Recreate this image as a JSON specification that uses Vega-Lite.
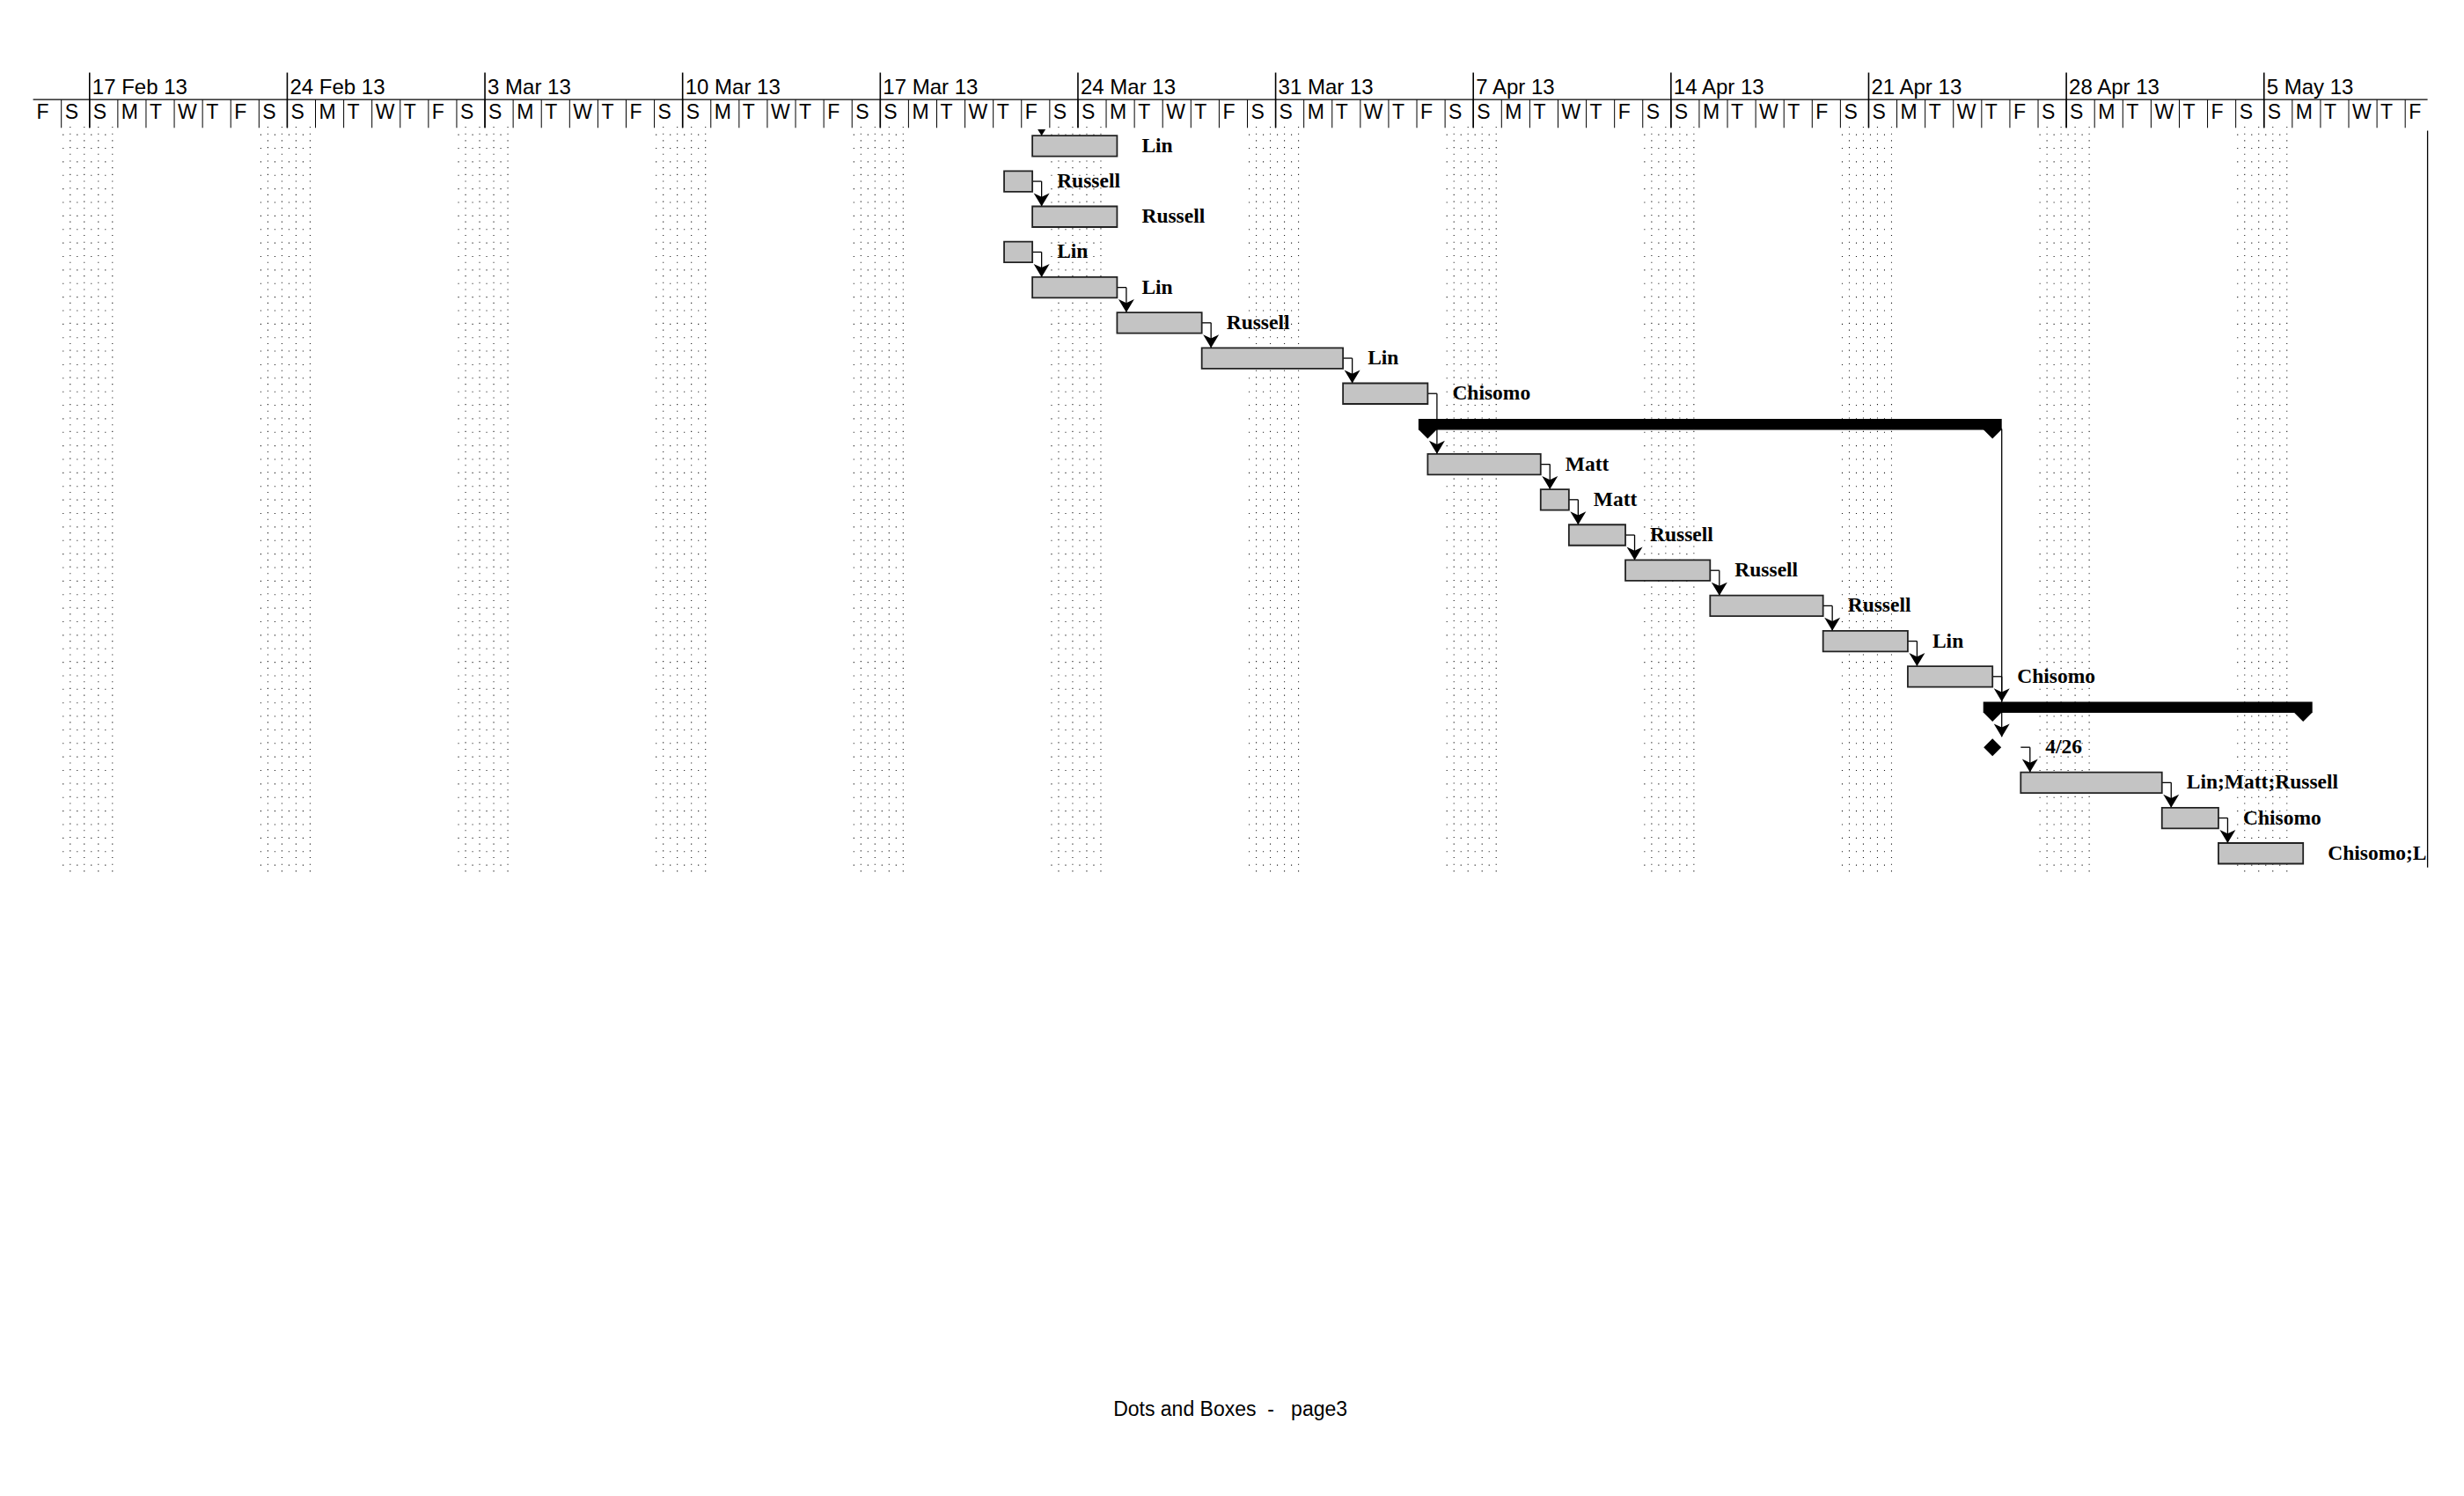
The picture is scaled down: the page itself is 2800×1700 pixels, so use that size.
{
  "$schema": "https://vega.github.io/schema/vega-lite/v6.json",
  "width": 2721,
  "height": 1000,
  "autosize": {"type": "none"},
  "padding": {"left": 37.6, "top": 0, "right": 41.4, "bottom": 700},
  "background": "white",
  "config": {"view": {"stroke": null}, "axis": {"disable": true}, "legend": {"disable": true}},
  "title": {"text": "Dots and Boxes\u00a0 - \u00a0 page3", "orient": "bottom", "anchor": "middle", "offset": 602, "baseline": "middle", "font": "Liberation Sans", "fontSize": 23, "fontWeight": "normal", "color": "black"},
  "datasets": {
    "tasks": [
      {"row": 0, "type": "task", "start": "2013-03-22T09:15Z", "end": "2013-03-25T09:15Z", "label": "Lin", "offpage": true},
      {"row": 1, "type": "task", "start": "2013-03-21T09:15Z", "end": "2013-03-22T09:15Z", "label": "Russell"},
      {"row": 2, "type": "task", "start": "2013-03-22T09:15Z", "end": "2013-03-25T09:15Z", "label": "Russell", "pred": 1, "predEnd": "2013-03-22T09:15Z"},
      {"row": 3, "type": "task", "start": "2013-03-21T09:15Z", "end": "2013-03-22T09:15Z", "label": "Lin"},
      {"row": 4, "type": "task", "start": "2013-03-22T09:15Z", "end": "2013-03-25T09:15Z", "label": "Lin", "pred": 3, "predEnd": "2013-03-22T09:15Z"},
      {"row": 5, "type": "task", "start": "2013-03-25T09:15Z", "end": "2013-03-28T09:15Z", "label": "Russell", "pred": 4, "predEnd": "2013-03-25T09:15Z"},
      {"row": 6, "type": "task", "start": "2013-03-28T09:15Z", "end": "2013-04-02T09:15Z", "label": "Lin", "pred": 5, "predEnd": "2013-03-28T09:15Z"},
      {"row": 7, "type": "task", "start": "2013-04-02T09:15Z", "end": "2013-04-05T09:15Z", "label": "Chisomo", "pred": 6, "predEnd": "2013-04-02T09:15Z"},
      {"row": 8, "type": "summary", "start": "2013-04-05T09:15Z", "end": "2013-04-25T09:15Z"},
      {"row": 9, "type": "task", "start": "2013-04-05T09:15Z", "end": "2013-04-09T09:15Z", "label": "Matt", "pred": 7, "predEnd": "2013-04-05T09:15Z"},
      {"row": 10, "type": "task", "start": "2013-04-09T09:15Z", "end": "2013-04-10T09:15Z", "label": "Matt", "pred": 9, "predEnd": "2013-04-09T09:15Z"},
      {"row": 11, "type": "task", "start": "2013-04-10T09:15Z", "end": "2013-04-12T09:15Z", "label": "Russell", "pred": 10, "predEnd": "2013-04-10T09:15Z"},
      {"row": 12, "type": "task", "start": "2013-04-12T09:15Z", "end": "2013-04-15T09:15Z", "label": "Russell", "pred": 11, "predEnd": "2013-04-12T09:15Z"},
      {"row": 13, "type": "task", "start": "2013-04-15T09:15Z", "end": "2013-04-19T09:15Z", "label": "Russell", "pred": 12, "predEnd": "2013-04-15T09:15Z"},
      {"row": 14, "type": "task", "start": "2013-04-19T09:15Z", "end": "2013-04-22T09:15Z", "label": "Lin", "pred": 13, "predEnd": "2013-04-19T09:15Z"},
      {"row": 15, "type": "task", "start": "2013-04-22T09:15Z", "end": "2013-04-25T09:15Z", "label": "Chisomo", "pred": 14, "predEnd": "2013-04-22T09:15Z"},
      {"row": 16, "type": "summary", "start": "2013-04-25T09:15Z", "end": "2013-05-06T09:15Z", "pred": 8, "predEnd": "2013-04-25T09:15Z"},
      {"row": 17, "type": "milestone", "start": "2013-04-25T09:15Z", "end": "2013-04-26T09:15Z", "label": "4/26", "pred": 15, "predEnd": "2013-04-25T09:15Z"},
      {"row": 18, "type": "task", "start": "2013-04-26T09:15Z", "end": "2013-05-01T09:15Z", "label": "Lin;Matt;Russell", "pred": 17, "predEnd": "2013-04-26T09:15Z"},
      {"row": 19, "type": "task", "start": "2013-05-01T09:15Z", "end": "2013-05-03T09:15Z", "label": "Chisomo", "pred": 18, "predEnd": "2013-05-01T09:15Z"},
      {"row": 20, "type": "task", "start": "2013-05-03T09:15Z", "end": "2013-05-06T09:15Z", "label": "Chisomo;Lin;Matt;Russell", "pred": 19, "predEnd": "2013-05-03T09:15Z"}
    ],
    "weeks": [
      {"d": "2013-02-17", "t": "17 Feb 13"}, {"d": "2013-02-24", "t": "24 Feb 13"},
      {"d": "2013-03-03", "t": "3 Mar 13"}, {"d": "2013-03-10", "t": "10 Mar 13"},
      {"d": "2013-03-17", "t": "17 Mar 13"}, {"d": "2013-03-24", "t": "24 Mar 13"},
      {"d": "2013-03-31", "t": "31 Mar 13"}, {"d": "2013-04-07", "t": "7 Apr 13"},
      {"d": "2013-04-14", "t": "14 Apr 13"}, {"d": "2013-04-21", "t": "21 Apr 13"},
      {"d": "2013-04-28", "t": "28 Apr 13"}, {"d": "2013-05-05", "t": "5 May 13"}
    ],
    "days": [
      {"d": "2013-02-15", "l": "F"}, {"d": "2013-02-16", "l": "S"}, {"d": "2013-02-17", "l": "S"}, {"d": "2013-02-18", "l": "M"}, {"d": "2013-02-19", "l": "T"}, {"d": "2013-02-20", "l": "W"}, {"d": "2013-02-21", "l": "T"},
      {"d": "2013-02-22", "l": "F"}, {"d": "2013-02-23", "l": "S"}, {"d": "2013-02-24", "l": "S"}, {"d": "2013-02-25", "l": "M"}, {"d": "2013-02-26", "l": "T"}, {"d": "2013-02-27", "l": "W"}, {"d": "2013-02-28", "l": "T"},
      {"d": "2013-03-01", "l": "F"}, {"d": "2013-03-02", "l": "S"}, {"d": "2013-03-03", "l": "S"}, {"d": "2013-03-04", "l": "M"}, {"d": "2013-03-05", "l": "T"}, {"d": "2013-03-06", "l": "W"}, {"d": "2013-03-07", "l": "T"},
      {"d": "2013-03-08", "l": "F"}, {"d": "2013-03-09", "l": "S"}, {"d": "2013-03-10", "l": "S"}, {"d": "2013-03-11", "l": "M"}, {"d": "2013-03-12", "l": "T"}, {"d": "2013-03-13", "l": "W"}, {"d": "2013-03-14", "l": "T"},
      {"d": "2013-03-15", "l": "F"}, {"d": "2013-03-16", "l": "S"}, {"d": "2013-03-17", "l": "S"}, {"d": "2013-03-18", "l": "M"}, {"d": "2013-03-19", "l": "T"}, {"d": "2013-03-20", "l": "W"}, {"d": "2013-03-21", "l": "T"},
      {"d": "2013-03-22", "l": "F"}, {"d": "2013-03-23", "l": "S"}, {"d": "2013-03-24", "l": "S"}, {"d": "2013-03-25", "l": "M"}, {"d": "2013-03-26", "l": "T"}, {"d": "2013-03-27", "l": "W"}, {"d": "2013-03-28", "l": "T"},
      {"d": "2013-03-29", "l": "F"}, {"d": "2013-03-30", "l": "S"}, {"d": "2013-03-31", "l": "S"}, {"d": "2013-04-01", "l": "M"}, {"d": "2013-04-02", "l": "T"}, {"d": "2013-04-03", "l": "W"}, {"d": "2013-04-04", "l": "T"},
      {"d": "2013-04-05", "l": "F"}, {"d": "2013-04-06", "l": "S"}, {"d": "2013-04-07", "l": "S"}, {"d": "2013-04-08", "l": "M"}, {"d": "2013-04-09", "l": "T"}, {"d": "2013-04-10", "l": "W"}, {"d": "2013-04-11", "l": "T"},
      {"d": "2013-04-12", "l": "F"}, {"d": "2013-04-13", "l": "S"}, {"d": "2013-04-14", "l": "S"}, {"d": "2013-04-15", "l": "M"}, {"d": "2013-04-16", "l": "T"}, {"d": "2013-04-17", "l": "W"}, {"d": "2013-04-18", "l": "T"},
      {"d": "2013-04-19", "l": "F"}, {"d": "2013-04-20", "l": "S"}, {"d": "2013-04-21", "l": "S"}, {"d": "2013-04-22", "l": "M"}, {"d": "2013-04-23", "l": "T"}, {"d": "2013-04-24", "l": "W"}, {"d": "2013-04-25", "l": "T"},
      {"d": "2013-04-26", "l": "F"}, {"d": "2013-04-27", "l": "S"}, {"d": "2013-04-28", "l": "S"}, {"d": "2013-04-29", "l": "M"}, {"d": "2013-04-30", "l": "T"}, {"d": "2013-05-01", "l": "W"}, {"d": "2013-05-02", "l": "T"},
      {"d": "2013-05-03", "l": "F"}, {"d": "2013-05-04", "l": "S"}, {"d": "2013-05-05", "l": "S"}, {"d": "2013-05-06", "l": "M"}, {"d": "2013-05-07", "l": "T"}, {"d": "2013-05-08", "l": "W"}, {"d": "2013-05-09", "l": "T"},
      {"d": "2013-05-10", "l": "F"}
    ]
  },
  "layer": [
    {
      "data": {"name": "weeks"},
      "mark": {"type": "point", "shape": "M-0.0519,-1L-0.0519,1M-0.0142,-1L-0.0142,1M0.0236,-1L0.0236,1M0.0614,-1L0.0614,1", "filled": false, "stroke": "#1a1a1a", "strokeWidth": 1.1, "strokeDash": [1.1, 6.585], "size": 717917, "opacity": 1},
      "encoding": {
        "x": {"field": "d", "type": "temporal", "scale": {"type": "utc", "domain": [{"year": 2013, "month": "Feb", "date": 15, "utc": true}, {"year": 2013, "month": "May", "date": 10, "hours": 19, "utc": true}], "nice": false}},
        "y": {"datum": 9.996, "type": "quantitative", "scale": {"domain": [-4.0025, 20.6281], "reverse": true, "nice": false, "zero": false}}
      }
    },
    {
      "data": {"name": "weeks"},
      "mark": {"type": "point", "shape": "M-0.0708,-0.9797L-0.0708,1M-0.033,-0.9797L-0.033,1M0.0047,-0.9797L0.0047,1M0.0425,-0.9797L0.0425,1", "filled": false, "stroke": "#1a1a1a", "strokeWidth": 1.1, "strokeDash": [1.1, 14.27], "size": 717917, "opacity": 1},
      "encoding": {
        "x": {"field": "d", "type": "temporal", "scale": {"type": "utc", "domain": [{"year": 2013, "month": "Feb", "date": 15, "utc": true}, {"year": 2013, "month": "May", "date": 10, "hours": 19, "utc": true}], "nice": false}},
        "y": {"datum": 9.996, "type": "quantitative", "scale": {"domain": [-4.0025, 20.6281], "reverse": true, "nice": false, "zero": false}}
      }
    },
    {
      "data": {"values": [{}]},
      "mark": {"type": "rule", "stroke": "black", "strokeWidth": 1.3},
      "encoding": {
        "y": {"datum": -1.31, "type": "quantitative", "scale": {"domain": [-4.0025, 20.6281], "reverse": true, "nice": false, "zero": false}}
      }
    },
    {
      "data": {"name": "weeks"},
      "mark": {"type": "rule", "stroke": "black", "strokeWidth": 1.6},
      "encoding": {
        "x": {"field": "d", "type": "temporal", "scale": {"type": "utc", "domain": [{"year": 2013, "month": "Feb", "date": 15, "utc": true}, {"year": 2013, "month": "May", "date": 10, "hours": 19, "utc": true}], "nice": false}},
        "y": {"datum": -2.074, "type": "quantitative", "scale": {"domain": [-4.0025, 20.6281], "reverse": true, "nice": false, "zero": false}},
        "y2": {"datum": -0.512}
      }
    },
    {
      "data": {"name": "days"},
      "transform": [{"filter": "!(utcmonth(datum.d) == 1 && utcdate(datum.d) == 15)"}],
      "mark": {"type": "rule", "stroke": "black", "strokeWidth": 1},
      "encoding": {
        "x": {"field": "d", "type": "temporal", "scale": {"type": "utc", "domain": [{"year": 2013, "month": "Feb", "date": 15, "utc": true}, {"year": 2013, "month": "May", "date": 10, "hours": 19, "utc": true}], "nice": false}},
        "y": {"datum": -1.31, "type": "quantitative", "scale": {"domain": [-4.0025, 20.6281], "reverse": true, "nice": false, "zero": false}},
        "y2": {"datum": -0.512}
      }
    },
    {
      "data": {"name": "weeks"},
      "mark": {"type": "text", "align": "left", "baseline": "middle", "dx": 3, "font": "Liberation Sans", "fontSize": 24, "color": "black"},
      "encoding": {
        "x": {"field": "d", "type": "temporal", "scale": {"type": "utc", "domain": [{"year": 2013, "month": "Feb", "date": 15, "utc": true}, {"year": 2013, "month": "May", "date": 10, "hours": 19, "utc": true}], "nice": false}},
        "y": {"datum": -1.65, "type": "quantitative", "scale": {"domain": [-4.0025, 20.6281], "reverse": true, "nice": false, "zero": false}},
        "text": {"field": "t"}
      }
    },
    {
      "data": {"name": "days"},
      "mark": {"type": "text", "align": "left", "baseline": "middle", "dx": 4, "font": "Liberation Sans", "fontSize": 23, "color": "black"},
      "encoding": {
        "x": {"field": "d", "type": "temporal", "scale": {"type": "utc", "domain": [{"year": 2013, "month": "Feb", "date": 15, "utc": true}, {"year": 2013, "month": "May", "date": 10, "hours": 19, "utc": true}], "nice": false}},
        "y": {"datum": -0.943, "type": "quantitative", "scale": {"domain": [-4.0025, 20.6281], "reverse": true, "nice": false, "zero": false}},
        "text": {"field": "l"}
      }
    },
    {
      "data": {"values": [{}]},
      "mark": {"type": "rule", "stroke": "black", "strokeWidth": 1.3},
      "encoding": {
        "x": {"datum": {"year": 2013, "month": "May", "date": 10, "hours": 19, "utc": true}, "type": "temporal", "scale": {"type": "utc", "domain": [{"year": 2013, "month": "Feb", "date": 15, "utc": true}, {"year": 2013, "month": "May", "date": 10, "hours": 19, "utc": true}], "nice": false}},
        "y": {"datum": -0.431, "type": "quantitative", "scale": {"domain": [-4.0025, 20.6281], "reverse": true, "nice": false, "zero": false}},
        "y2": {"datum": 20.4}
      }
    },
    {
      "data": {"name": "tasks"},
      "transform": [{"filter": "datum.pred != null"}],
      "mark": {"type": "rule", "stroke": "black", "strokeWidth": 1.3, "x2Offset": 10.5},
      "encoding": {
        "x": {"field": "predEnd", "type": "temporal", "scale": {"type": "utc", "domain": [{"year": 2013, "month": "Feb", "date": 15, "utc": true}, {"year": 2013, "month": "May", "date": 10, "hours": 19, "utc": true}], "nice": false}},
        "x2": {"field": "start"},
        "y": {"field": "pred", "type": "quantitative", "scale": {"domain": [-4.0025, 20.6281], "reverse": true, "nice": false, "zero": false}}
      }
    },
    {
      "data": {"name": "tasks"},
      "transform": [{"filter": "datum.pred != null"}],
      "mark": {"type": "rule", "stroke": "black", "strokeWidth": 1.3, "xOffset": 10.5, "y2Offset": -12},
      "encoding": {
        "x": {"field": "start", "type": "temporal", "scale": {"type": "utc", "domain": [{"year": 2013, "month": "Feb", "date": 15, "utc": true}, {"year": 2013, "month": "May", "date": 10, "hours": 19, "utc": true}], "nice": false}},
        "y": {"field": "pred", "type": "quantitative", "scale": {"domain": [-4.0025, 20.6281], "reverse": true, "nice": false, "zero": false}},
        "y2": {"field": "row"}
      }
    },
    {
      "data": {"name": "tasks"},
      "transform": [{"filter": "datum.type == 'task'"}],
      "mark": {"type": "bar", "height": 23.5, "fill": "#c4c4c4", "stroke": "#222222", "strokeWidth": 1.8, "opacity": 1},
      "encoding": {
        "x": {"field": "start", "type": "temporal", "scale": {"type": "utc", "domain": [{"year": 2013, "month": "Feb", "date": 15, "utc": true}, {"year": 2013, "month": "May", "date": 10, "hours": 19, "utc": true}], "nice": false}},
        "x2": {"field": "end"},
        "y": {"field": "row", "type": "quantitative", "scale": {"domain": [-4.0025, 20.6281], "reverse": true, "nice": false, "zero": false}}
      }
    },
    {
      "data": {"name": "tasks"},
      "transform": [{"filter": "datum.type == 'summary'"}],
      "mark": {"type": "bar", "height": 12.4, "yOffset": -5.2, "xOffset": -10.5, "x2Offset": 10.5, "fill": "black", "opacity": 1},
      "encoding": {
        "x": {"field": "start", "type": "temporal", "scale": {"type": "utc", "domain": [{"year": 2013, "month": "Feb", "date": 15, "utc": true}, {"year": 2013, "month": "May", "date": 10, "hours": 19, "utc": true}], "nice": false}},
        "x2": {"field": "end"},
        "y": {"field": "row", "type": "quantitative", "scale": {"domain": [-4.0025, 20.6281], "reverse": true, "nice": false, "zero": false}}
      }
    },
    {
      "data": {"name": "tasks"},
      "transform": [{"filter": "datum.type == 'summary'"}],
      "mark": {"type": "point", "shape": "M-1,-1L1,-1L0,0Z", "size": 441, "filled": true, "color": "black", "opacity": 1, "strokeWidth": 0, "yOffset": 11},
      "encoding": {
        "x": {"field": "start", "type": "temporal", "scale": {"type": "utc", "domain": [{"year": 2013, "month": "Feb", "date": 15, "utc": true}, {"year": 2013, "month": "May", "date": 10, "hours": 19, "utc": true}], "nice": false}},
        "y": {"field": "row", "type": "quantitative", "scale": {"domain": [-4.0025, 20.6281], "reverse": true, "nice": false, "zero": false}}
      }
    },
    {
      "data": {"name": "tasks"},
      "transform": [{"filter": "datum.type == 'summary'"}],
      "mark": {"type": "point", "shape": "M-1,-1L1,-1L0,0Z", "size": 441, "filled": true, "color": "black", "opacity": 1, "strokeWidth": 0, "yOffset": 11},
      "encoding": {
        "x": {"field": "end", "type": "temporal", "scale": {"type": "utc", "domain": [{"year": 2013, "month": "Feb", "date": 15, "utc": true}, {"year": 2013, "month": "May", "date": 10, "hours": 19, "utc": true}], "nice": false}},
        "y": {"field": "row", "type": "quantitative", "scale": {"domain": [-4.0025, 20.6281], "reverse": true, "nice": false, "zero": false}}
      }
    },
    {
      "data": {"name": "tasks"},
      "transform": [{"filter": "datum.type == 'milestone'"}],
      "mark": {"type": "point", "shape": "diamond", "size": 400, "filled": true, "color": "black", "opacity": 1, "strokeWidth": 0},
      "encoding": {
        "x": {"field": "start", "type": "temporal", "scale": {"type": "utc", "domain": [{"year": 2013, "month": "Feb", "date": 15, "utc": true}, {"year": 2013, "month": "May", "date": 10, "hours": 19, "utc": true}], "nice": false}},
        "y": {"field": "row", "type": "quantitative", "scale": {"domain": [-4.0025, 20.6281], "reverse": true, "nice": false, "zero": false}}
      }
    },
    {
      "data": {"name": "tasks"},
      "transform": [{"filter": "datum.pred != null"}],
      "mark": {"type": "point", "shape": "M0,0L-0.6,-1L0,-0.72L0.6,-1Z", "size": 900, "filled": true, "color": "black", "opacity": 1, "strokeWidth": 0, "xOffset": 10.5, "yOffset": -11.75},
      "encoding": {
        "x": {"field": "start", "type": "temporal", "scale": {"type": "utc", "domain": [{"year": 2013, "month": "Feb", "date": 15, "utc": true}, {"year": 2013, "month": "May", "date": 10, "hours": 19, "utc": true}], "nice": false}},
        "y": {"field": "row", "type": "quantitative", "scale": {"domain": [-4.0025, 20.6281], "reverse": true, "nice": false, "zero": false}}
      }
    },
    {
      "data": {"name": "tasks"},
      "transform": [{"filter": "datum.offpage == true"}],
      "mark": {"type": "point", "shape": "M-0.3,-0.47L0.3,-0.47L0,0Z", "size": 900, "filled": true, "color": "black", "opacity": 1, "strokeWidth": 0, "xOffset": 10.5, "yOffset": -11.75},
      "encoding": {
        "x": {"field": "start", "type": "temporal", "scale": {"type": "utc", "domain": [{"year": 2013, "month": "Feb", "date": 15, "utc": true}, {"year": 2013, "month": "May", "date": 10, "hours": 19, "utc": true}], "nice": false}},
        "y": {"field": "row", "type": "quantitative", "scale": {"domain": [-4.0025, 20.6281], "reverse": true, "nice": false, "zero": false}}
      }
    },
    {
      "data": {"name": "tasks"},
      "transform": [{"filter": "datum.label != null"}],
      "mark": {"type": "text", "align": "left", "baseline": "middle", "dx": 28, "font": "Liberation Serif", "fontWeight": "bold", "fontSize": 23.5, "color": "black", "clip": true},
      "encoding": {
        "x": {"field": "end", "type": "temporal", "scale": {"type": "utc", "domain": [{"year": 2013, "month": "Feb", "date": 15, "utc": true}, {"year": 2013, "month": "May", "date": 10, "hours": 19, "utc": true}], "nice": false}},
        "y": {"field": "row", "type": "quantitative", "scale": {"domain": [-4.0025, 20.6281], "reverse": true, "nice": false, "zero": false}},
        "text": {"field": "label"}
      }
    }
  ]
}
